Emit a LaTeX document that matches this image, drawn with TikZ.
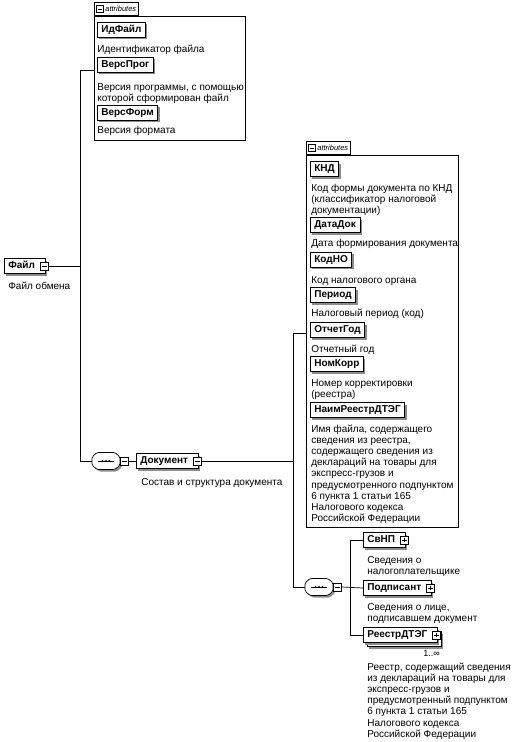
\documentclass[tikz,border=0pt]{standalone}
\usepackage{fontspec}
\setmainfont{Liberation Sans}
\usetikzlibrary{shadows}
\begin{document}
\begin{tikzpicture}[x=1pt,y=-1pt,line width=0.7pt,
 every node/.style={font=\fontsize{10}{11.1}\selectfont},
 shad/.style={drop shadow={shadow xshift=2pt,shadow yshift=-2pt,fill=black!45,opacity=1}},
 elem/.style={draw,fill=white,shad,font=\fontsize{10}{11.1}\selectfont\bfseries,inner xsep=4pt,inner ysep=0pt,minimum height=15pt,text height=7.5pt,text depth=2pt,anchor=west},
 desc/.style={anchor=base west,align=left,inner sep=0pt},
 grp/.style={draw,fill=white,anchor=north west,inner sep=0pt},
 tabn/.style={draw,fill=white,anchor=south west,inner xsep=2pt,inner ysep=1pt,minimum height=13pt,font=\fontsize{7.5}{9}\selectfont\itshape},
 pmb/.style={draw,fill=white,minimum size=8pt,inner sep=0pt,line width=0.6pt},
 tabb/.style={draw,fill=white,minimum size=7pt,inner sep=0pt,line width=0.5pt},
 minusb/.pic={\node[pmb] (-b) {}; \draw[line width=0.6pt] (-2.3,0) -- (2.3,0);},
 plusb/.pic={\node[pmb] (-b) {}; \draw[line width=0.6pt] (-2.3,0) -- (2.3,0) (0,-2.3) -- (0,2.3);},
 tabminus/.pic={\node[tabb] (-b) {}; \draw[line width=0.5pt] (-2,0) -- (2,0);},
 seq/.pic={
  \path[draw,fill=white,shad,rounded corners=1.5pt] (-14,-4) -- (-9,-8.5) -- (9,-8.5) -- (14,-4) -- (14,4) -- (9,8.5) -- (-9,8.5) -- (-14,4) -- cycle;
  \node[inner sep=0pt,minimum width=28pt,minimum height=17pt] (-s) {};
  \draw[line width=0.8pt] (-8,0) -- (8,0);
  \fill (-3.5,0) circle (1.1pt) (0,0) circle (1.1pt) (3.5,0) circle (1.1pt);
  \node[pmb] (-b) at (18.5,0) {};
  \draw[line width=0.6pt] (16.3,0) -- (20.7,0);
 }
]
\useasboundingbox (0,0) rectangle (512,742);

% ---------- root element
\node[elem] (file) at (4,266) {Файл\hspace*{6pt}};
\pic (fileb) at ([xshift=-1pt]file.east) {minusb};
\node[desc] (filed) at (8,289.5) {Файл обмена};

% ---------- top attribute group
\node[grp,minimum width=151pt,minimum height=124pt] (attr1) at (94,16) {};
\node[tabn] (tab1) at (94,16) {\hspace*{9pt}attributes};
\pic (tab1b) at ([xshift=5.5pt]tab1.west) {tabminus};

\node[elem] (idf) at (97,29.5) {ИдФайл};
\node[desc] (idfd) at (97,52) {Идентификатор файла};
\node[elem] (vprog) at (97,64.5) {ВерсПрог};
\node[desc] (vprogd) at (97,101.6) {Версия программы, с помощью\\которой сформирован файл};
\node[elem] (vform) at (97,112.5) {ВерсФорм};
\node[desc] (vformd) at (97,133.5) {Версия формата};

% ---------- connectors from root
\coordinate (v1top) at (80,70);
\coordinate (v1bot) at (80,461);
\draw (fileb-b.east) -- (fileb-b.east -| v1top);
\draw (attr1.west |- v1top) -- (v1top) -- (v1bot);

% ---------- sequence 1 and Документ
\pic (seq1) at (106,461) {seq};
\draw (v1bot) -- (seq1-s.west);
\node[elem] (doc) at (136,461) {Документ\hspace*{6pt}};
\pic (docb) at ([xshift=-1pt]doc.east) {minusb};
\draw (seq1-b.east) -- (doc.west);
\node[desc] (docd) at (141,485) {Состав и структура документа};

% ---------- second attribute group
\node[grp,minimum width=152pt,minimum height=372pt] (attr2) at (306,155) {};
\node[tabn] (tab2) at (306,155) {\hspace*{9pt}attributes};
\pic (tab2b) at ([xshift=5.5pt]tab2.west) {tabminus};

\node[elem] (knd) at (310,169) {КНД};
\node[desc] (kndd) at (311,213.7) {Код формы документа по КНД\\(классификатор налоговой\\документации)};
\node[elem] (datadok) at (310,225) {ДатаДок};
\node[desc] (datadokd) at (311,246.5) {Дата формирования документа};
\node[elem] (kodno) at (310,259.5) {КодНО};
\node[desc] (kodnod) at (311,283.5) {Код налогового органа};
\node[elem] (period) at (310,295) {Период};
\node[desc] (periodd) at (311,316.5) {Налоговый период (код)};
\node[elem] (otchgod) at (310,330) {ОтчетГод};
\node[desc] (otchgodd) at (311,352.5) {Отчетный год};
\node[elem] (nomkorr) at (310,364) {НомКорр};
\node[desc] (nomkorrd) at (311,397.6) {Номер корректировки\\(реестра)};
\node[elem] (naim) at (310,410) {НаимРеестрДТЭГ};
\node[desc] (naimd) at (311,521.3) {Имя файла, содержащего\\сведения из реестра,\\содержащего сведения из\\деклараций на товары для\\экспресс-грузов и\\предусмотренного подпунктом\\6 пункта 1 статьи 165\\Налогового кодекса\\Российской Федерации};

% ---------- connectors from Документ
\coordinate (v2top) at (293,333);
\coordinate (v2bot) at (293,587);
\draw (docb-b.east) -- (docb-b.east -| v2top);
\draw (attr2.west |- v2top) -- (v2top) -- (v2bot);

% ---------- sequence 2 and children
\pic (seq2) at (319,587) {seq};
\draw (v2bot) -- (seq2-s.west);

\node[elem] (svnp) at (363,540) {СвНП\hspace*{6pt}};
\pic (svnpb) at ([xshift=-1pt]svnp.east) {plusb};
\node[desc] (svnpd) at (367,574.6) {Сведения о\\налогоплательщике};

\node[elem] (podp) at (363,588) {Подписант\hspace*{6pt}};
\pic (podpb) at ([xshift=-1pt]podp.east) {plusb};
\node[desc] (podpd) at (367,621.6) {Сведения о лице,\\подписавшем документ};

\node[elem] (reestrbk) at (367,639) {\phantom{РеестрДТЭГ}\hspace*{6pt}};
\node[elem] (reestr) at (363,635) {РеестрДТЭГ\hspace*{6pt}};
\pic (reestrb) at ([xshift=-1pt]reestr.east) {plusb};
\node[anchor=base west,inner sep=0pt,font=\fontsize{9}{10}\selectfont] (reestrm) at (423,656.5) {1..∞};
\node[desc] (reestrd) at (367,737.1) {Реестр, содержащий сведения\\из деклараций на товары для\\экспресс-грузов и\\предусмотренный подпунктом\\6 пункта 1 статьи 165\\Налогового кодекса\\Российской Федерации};

\coordinate (v3) at (350,587);
\draw (seq2-b.east) -- (podp.west);
\draw (svnp.west) -- (svnp.west -| v3) -- (reestr.west -| v3) -- (reestr.west);
\end{tikzpicture}
\end{document}
